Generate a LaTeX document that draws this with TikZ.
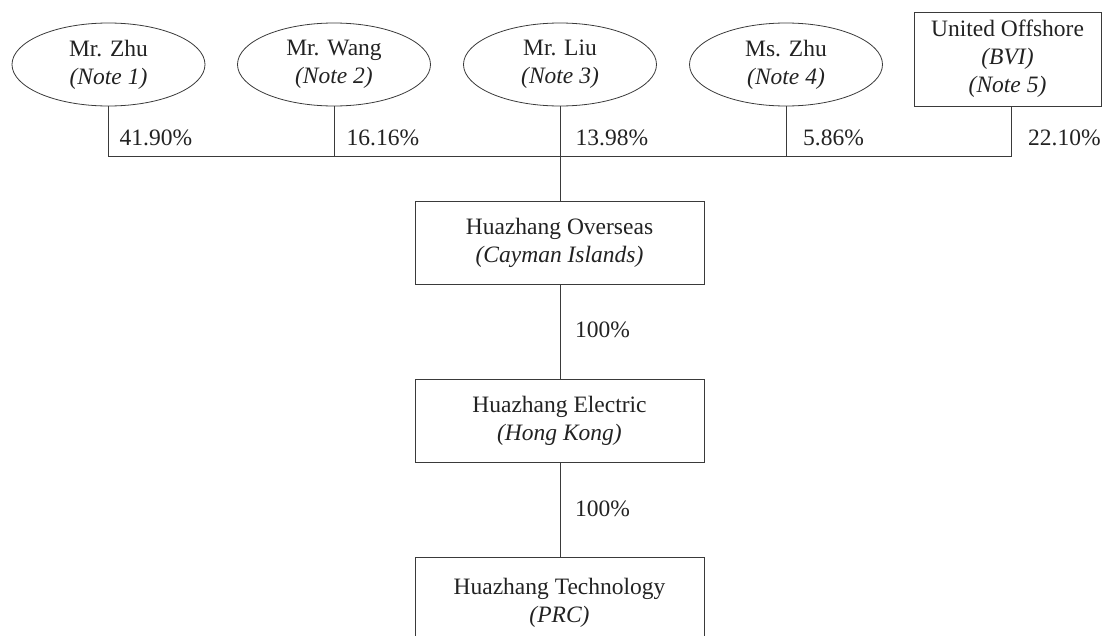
\documentclass[tikz,border=0pt]{standalone}
\usepackage{fontspec}
\setmainfont{Liberation Serif}
\usetikzlibrary{shapes.geometric}
\definecolor{ink}{HTML}{222222}
\definecolor{rule}{HTML}{3A3A3A}
\begin{document}
\begin{tikzpicture}[x=1pt,y=-1pt,
  every node/.style={font=\fontsize{23.5}{28}\selectfont, text=ink},
  owner/.style={draw=rule, line width=0.8pt, ellipse, minimum width=193pt, minimum height=83pt, inner sep=0pt, align=center, execute at begin node={\rule{0pt}{21pt}}},
  company/.style={draw=rule, line width=0.8pt, rectangle, minimum width=289pt, minimum height=83pt, inner sep=0pt, align=center, execute at begin node={\rule{0pt}{21pt}}},
  link/.style={draw=rule, line width=0.8pt},
  pct/.style={anchor=base west, inner sep=0pt}]
\useasboundingbox (0,0) rectangle (1103,635);
\clip (0,0) rectangle (1103,635);
\node[owner] (zhu) at (108.5,64.5) {Mr. Zhu\\\textit{(Note 1)}};
\node[owner] (wang) at (334,64.5) {Mr. Wang\\\textit{(Note 2)}};
\node[owner] (liu) at (560,64.5) {Mr. Liu\\\textit{(Note 3)}};
\node[owner] (mszhu) at (786,64.5) {Ms. Zhu\\\textit{(Note 4)}};
\node[draw=rule, line width=0.8pt, rectangle, minimum width=187pt, minimum height=94pt, inner sep=0pt, align=center] (uo) at (1007.5,59) {United Offshore\\\textit{(BVI)}\\\textit{(Note 5)}};
\coordinate (j) at (560,156.5);
\coordinate (uofoot) at (1011.5,106);
\node[company] (ovs) at (559.5,242.5) {Huazhang Overseas\\\textit{(Cayman Islands)}};
\node[company] (ele) at (559.5,420.5) {Huazhang Electric\\\textit{(Hong Kong)}};
\node[company, minimum height=91pt, anchor=north] (tech) at (559.5,557) {Huazhang Technology\\\textit{(PRC)}};
\draw[link] (zhu.south) -- (zhu.south |- j) -- (uofoot |- j) -- (uofoot);
\draw[link] (wang.south) -- (wang.south |- j);
\draw[link] (mszhu.south) -- (mszhu.south |- j);
\draw[link] (liu.south) -- (liu.south |- ovs.north);
\draw[link] (liu.south |- ovs.south) -- (liu.south |- ele.north);
\draw[link] (liu.south |- ele.south) -- (liu.south |- tech.north);
\node[pct] (p1) at (119.5,145) {41.90\%};
\node[pct] (p2) at (346.5,145) {16.16\%};
\node[pct] (p3) at (575.5,145) {13.98\%};
\node[pct] (p4) at (803,145) {5.86\%};
\node[pct] (p5) at (1028,145) {22.10\%};
\node[pct] (p6) at (575,337) {100\%};
\node[pct] (p7) at (575,516.5) {100\%};
\end{tikzpicture}
\end{document}
